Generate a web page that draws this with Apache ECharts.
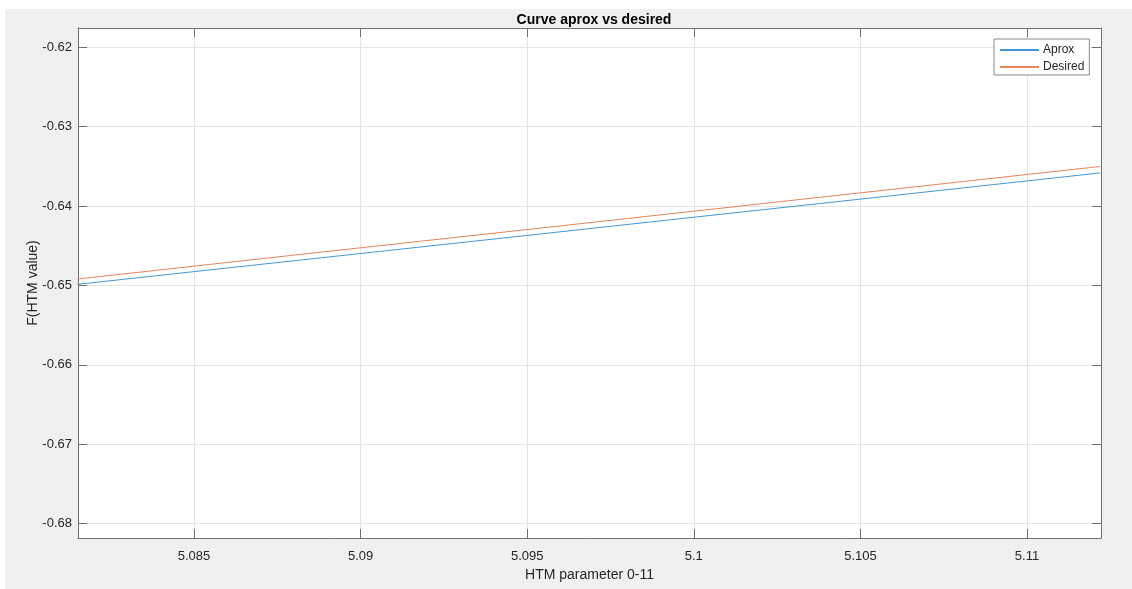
<!DOCTYPE html>
<html>
<head>
<meta charset="utf-8">
<script src="https://cdn.jsdelivr.net/npm/echarts@6/dist/echarts.min.js"></script>
<style>
  html, body { margin: 0; padding: 0; background: #ffffff; }
  #chart { width: 1132px; height: 589px; }
</style>
</head>
<body>
<div id="chart"></div>
<script>
// HTM parameter samples (x) and function values for each curve
const xValues = [5.0815, 5.085, 5.09, 5.095, 5.1, 5.105, 5.11, 5.1122];
const aproxValues = [-0.64987, -0.64827, -0.64599, -0.64371, -0.64142, -0.63914, -0.63685, -0.63584];
const desiredValues = [-0.64920, -0.64758, -0.64527, -0.64297, -0.64066, -0.63835, -0.63604, -0.63503];

// Visible axis window
const xRange = [5.08152, 5.11222];
const yRange = [-0.6818, -0.6176];

const seriesNames = ['Aprox', 'Desired'];
const seriesColors = ['#4497d5', '#e6855a'];

const pairs = (xs, ys) => xs.map((x, i) => [x, ys[i]]);

const textColor = '#262626';
const boxColor = '#6f6f6f';
const gridColor = '#e4e4e4';
const font = 'Liberation Sans, Arial, sans-serif';

const chart = echarts.init(document.getElementById('chart'), null, { renderer: 'canvas' });

const mainAxisCommon = {
  type: 'value',
  axisLine: { show: true, onZero: false, lineStyle: { color: boxColor, width: 1 } },
  axisTick: { show: true, inside: true, length: 9, lineStyle: { color: boxColor, width: 1 } },
  splitLine: { show: true, lineStyle: { color: gridColor, width: 1 } },
  axisLabel: {
    color: textColor, fontSize: 13, fontFamily: font,
    showMinLabel: false, showMaxLabel: false
  }
};

const mirrorAxisCommon = {
  type: 'value',
  axisLine: { show: true, onZero: false, lineStyle: { color: boxColor, width: 1 } },
  axisTick: { show: true, inside: true, length: 9, lineStyle: { color: boxColor, width: 1 } },
  splitLine: { show: false },
  axisLabel: { show: false }
};

chart.setOption({
  animation: false,
  backgroundColor: '#ffffff',
  graphic: [{
    type: 'rect',
    z: -10,
    silent: true,
    shape: { x: 5, y: 9, width: 1127, height: 580 },
    style: { fill: '#f0f0f0' }
  }],
  title: {
    text: 'Curve aprox vs desired',
    left: 589,
    top: 8,
    textAlign: 'center',
    textStyle: { color: '#000000', fontSize: 14, fontWeight: 'bold', fontFamily: font }
  },
  grid: {
    left: 78, right: 31, top: 28, bottom: 51,
    show: true, backgroundColor: '#ffffff', borderWidth: 0,
    containLabel: false
  },
  legend: {
    data: seriesNames,
    orient: 'vertical',
    left: 994,
    top: 39,
    itemWidth: 39,
    itemHeight: 14,
    itemGap: 5,
    padding: [5, 5, 2, 5],
    backgroundColor: '#ffffff',
    borderColor: '#8a8a8a',
    borderWidth: 1,
    borderRadius: 0,
    itemStyle: { opacity: 0 },
    textStyle: { color: textColor, fontSize: 12, fontFamily: font, padding: [0, 0, 0, -1] }
  },
  xAxis: [
    Object.assign({}, mainAxisCommon, {
      min: xRange[0], max: xRange[1], splitNumber: 6,
      position: 'bottom',
      name: 'HTM parameter 0-11',
      nameLocation: 'middle',
      nameGap: 30,
      nameMoveOverlap: false,
      nameTextStyle: { color: textColor, fontSize: 14, fontFamily: font },
      axisLabel: Object.assign({}, mainAxisCommon.axisLabel, { margin: 12 })
    }),
    Object.assign({}, mirrorAxisCommon, {
      min: xRange[0], max: xRange[1], splitNumber: 6, position: 'top'
    })
  ],
  yAxis: [
    Object.assign({}, mainAxisCommon, {
      min: yRange[0], max: yRange[1], splitNumber: 6,
      position: 'left',
      name: 'F(HTM value)',
      nameLocation: 'middle',
      nameGap: 38,
      nameMoveOverlap: false,
      nameTextStyle: { color: textColor, fontSize: 14, fontFamily: font },
      axisLabel: Object.assign({}, mainAxisCommon.axisLabel, { margin: 6 })
    }),
    Object.assign({}, mirrorAxisCommon, {
      min: yRange[0], max: yRange[1], splitNumber: 6, position: 'right'
    })
  ],
  series: [
    {
      name: seriesNames[0],
      type: 'line',
      xAxisIndex: 0, yAxisIndex: 0,
      data: pairs(xValues, aproxValues),
      symbol: 'none',
      clip: true,
      color: seriesColors[0],
      lineStyle: { color: seriesColors[0], width: 1 }
    },
    {
      name: seriesNames[1],
      type: 'line',
      xAxisIndex: 0, yAxisIndex: 0,
      data: pairs(xValues, desiredValues),
      symbol: 'none',
      clip: true,
      color: seriesColors[1],
      lineStyle: { color: seriesColors[1], width: 1 }
    }
  ]
});
</script>
</body>
</html>
